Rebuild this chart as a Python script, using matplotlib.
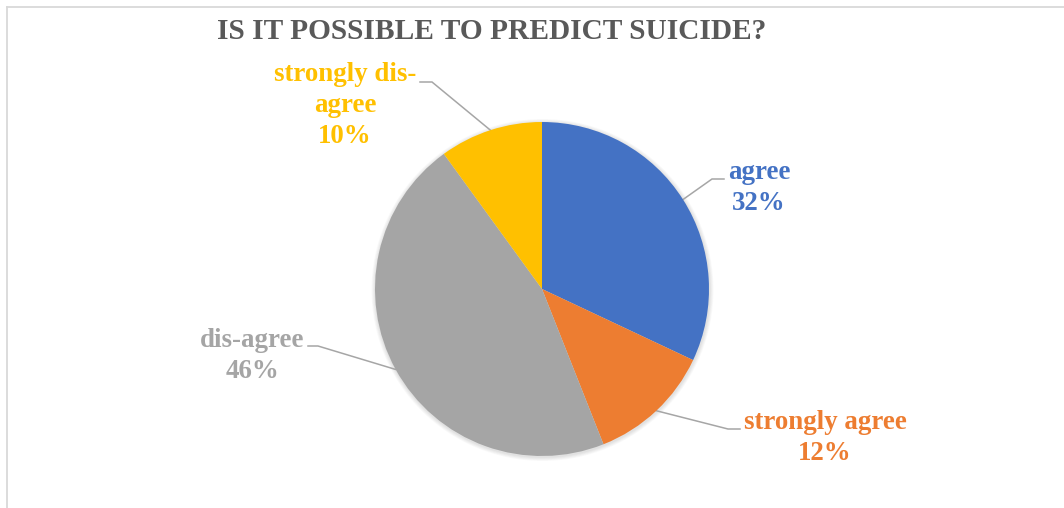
import numpy as np
import matplotlib.pyplot as plt
from matplotlib.patches import Circle
from matplotlib.lines import Line2D

W, H = 1064, 508

# data
labels = ["agree", "strongly agree", "dis-agree", "strongly dis-\nagree"]
values = [32, 12, 46, 10]
colors = ["#4472C4", "#ED7D31", "#A5A5A5", "#FFC000"]

# layout in pixel coords (y from top): label last-line baseline, leader elbow, leader end
label_xy = [(759, 210), (825, 460), (252, 378), (345, 143)]
elbow_xy = [(712, 179), (728, 429), (318, 346), (432, 82)]
end_xy = [(724, 179), (740, 429), (308, 346), (420, 82)]

cx, cy, r = 542, H - 289, 167

plt.rcParams['font.family'] = ['Liberation Serif', 'DejaVu Serif']

fig = plt.figure(figsize=(W / 100, H / 100), dpi=100)
ax = fig.add_axes([0, 0, 1, 1])

# soft shadow round the pie
for k in range(1, 6):
    ax.add_patch(Circle((cx + 0.5, cy - 1), r + k * 0.8, color='black', alpha=0.025, lw=0, zorder=0))

wedges, _ = ax.pie(values, colors=colors, startangle=90, counterclock=False,
                   center=(cx, cy), radius=r, wedgeprops=dict(linewidth=0))
for w in wedges:
    w.set_zorder(2)

for i, w in enumerate(wedges):
    mid = np.deg2rad((w.theta1 + w.theta2) / 2)
    px, py = cx + r * np.cos(mid), cy + r * np.sin(mid)
    ex, ey = elbow_xy[i]
    fx, fy = end_xy[i]
    ax.plot([px, ex, fx], [py, H - ey, H - fy], color='#A6A6A6', lw=1.1, zorder=1,
            solid_joinstyle='miter')
    tx, ty = label_xy[i]
    ax.text(tx, H - ty, f"{labels[i]}\n{values[i]}%", ha='center', va='baseline',
            multialignment='center', fontsize=19.4, fontweight='bold', color=colors[i],
            linespacing=1.31)

ax.text(492, H - 39, "IS IT POSSIBLE TO PREDICT SUICIDE?", ha='center', va='baseline',
        fontsize=21.2, fontweight='bold', color='#595959')

ax.set_xlim(0, W)
ax.set_ylim(0, H)
ax.set_aspect('equal')
ax.axis('off')

# chart area border (runs off the right and bottom)
fig.add_artist(Line2D([6.5 / W, 6.5 / W], [0, 1 - 7 / H], color='#D9D9D9', lw=1.3))
fig.add_artist(Line2D([6.5 / W, 1], [1 - 7 / H, 1 - 7 / H], color='#D9D9D9', lw=1.3))

fig.savefig('out.png', dpi=100, facecolor='white')
